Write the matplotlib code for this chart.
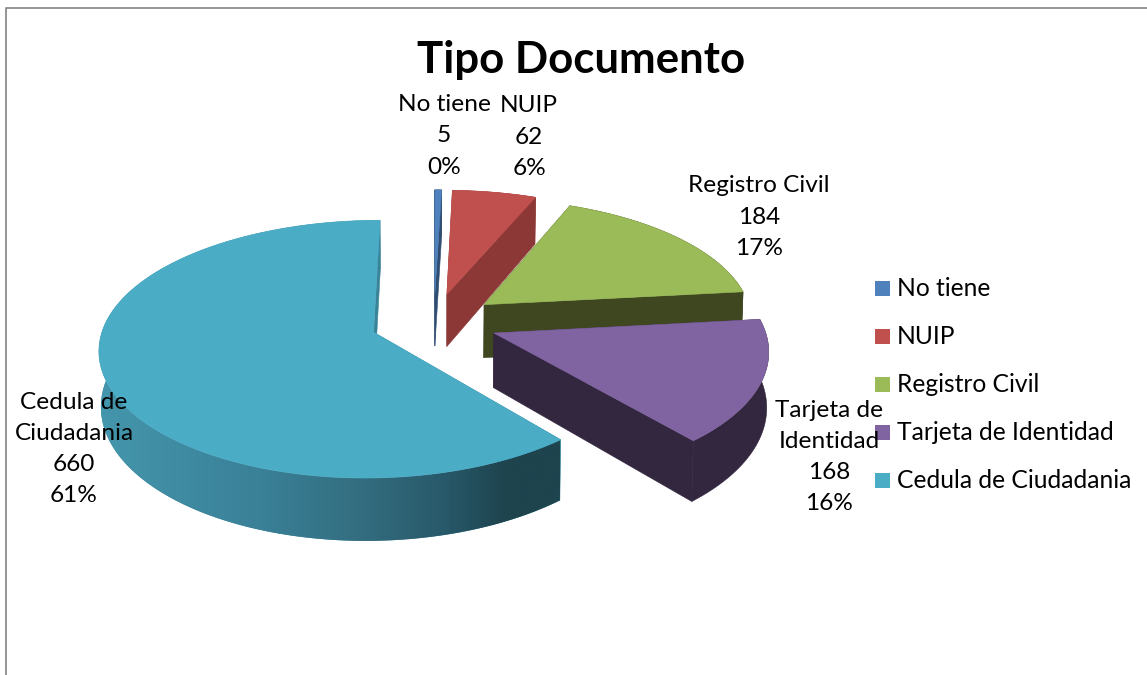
import numpy as np
import matplotlib
matplotlib.use('Agg')
import matplotlib.pyplot as plt
from matplotlib.patches import Polygon, Rectangle
from matplotlib.colors import LinearSegmentedColormap

plt.rcParams['font.family'] = ['Lato', 'DejaVu Sans']

categories = ['No tiene', 'NUIP', 'Registro Civil', 'Tarjeta de Identidad', 'Cedula de Ciudadania']
values = [5, 62, 184, 168, 660]
top_colors = ['#4F81BD', '#C0504D', '#9BBB59', '#8064A2', '#4BACC6']
side_colors = ['#2F4D71', '#8C3836', '#3F4720', '#33263F', '#3A8499']
label_text = ['No tiene', 'NUIP', 'Registro Civil', 'Tarjeta de\nIdentidad', 'Cedula de\nCiudadania']

# projection of the tilted pie, in pixels
cx, cy = 434, 322
rx, ry = 269, 124
k = 0.13
kx = 0.12
explode = 0.237
depth = 54

fig = plt.figure(figsize=(11.47, 6.75), dpi=100)
ax = fig.add_axes([0, 0, 1, 1])


def project(X, Y, z=0.0):
    s = 1.0 / (1.0 + k * Y)
    sx = 1.0 / (1.0 + kx * Y)
    x = cx + rx * X * sx * (1 - 0.006 * z)
    y = cy - ry * Y * s + depth * z * s
    return x, y


def arc_points(a0, a1, ox, oy, z=0.0, n=200):
    t = np.radians(np.linspace(a0, a1, n))
    return project(ox + np.sin(t), oy + np.cos(t), z)


def poly(xs, ys, color, zorder):
    p = Polygon(np.column_stack([xs, ys]), closed=True, facecolor=color,
                edgecolor=color, linewidth=0.4, zorder=zorder)
    ax.add_patch(p)
    return p


# side of the big slice gets darker to the right
teal_cmap = LinearSegmentedColormap.from_list(
    'teal_side', [(0.0, '#4496AC'), (0.35, '#3A8097'), (0.55, '#346F81'),
                  (0.75, '#28596A'), (0.88, '#1E444E'), (1.0, '#1E444E')])

total = sum(values)
start = 0.0
for i, val in enumerate(values):
    sweep = val / total * 360.0
    end = start + sweep
    mid = np.radians(start + sweep / 2)
    ox, oy = explode * np.sin(mid), explode * np.cos(mid)
    z0 = i * 10

    ax_, ay_ = project(ox, oy)
    bx_, by_ = project(ox, oy, 1.0)

    # flat cut faces
    for a in (start, end):
        t = np.radians(a)
        ex, ey = project(ox + np.sin(t), oy + np.cos(t))
        fx, fy = project(ox + np.sin(t), oy + np.cos(t), 1.0)
        poly([ax_, ex, fx, bx_], [ay_, ey, fy, by_], side_colors[i], z0)

    # outer wall
    tx, ty = arc_points(start, end, ox, oy)
    wx, wy = arc_points(start, end, ox, oy, 1.0)
    wall = poly(np.r_[tx, wx[::-1]], np.r_[ty, wy[::-1]], side_colors[i], z0 + 1)
    if i == 4:
        wall.set_edgecolor('none')
        grad = ax.imshow(np.linspace(0, 1, 512).reshape(1, -1), cmap=teal_cmap, aspect='auto',
                         extent=(wx.min(), wx.max(), wy.max(), wy.min()), zorder=z0 + 1.5)
        grad.set_clip_path(wall)

    # top face
    poly(np.r_[ax_, tx], np.r_[ay_, ty], top_colors[i], z0 + 2)
    start = end

ax.set_xlim(0, 1147)
ax.set_ylim(675, 0)
ax.axis('off')

# chart frame
ax.plot([5.5, 5.5, 1147], [675, 7.5, 7.5], color='#8C8C8C', lw=1.3, zorder=1)

ax.text(581, 60, 'Tipo Documento', fontsize=31.5, fontweight='bold', color='black',
        ha='center', va='center', zorder=100)

# data labels
label_pos = [(444, 136), (529, 137), (759, 217), (829, 457), (74, 449)]
for name, val, (lx, ly) in zip(label_text, values, label_pos):
    txt = '%s\n%d\n%d%%' % (name, val, round(val / total * 100))
    ax.text(lx, ly, txt, fontsize=17.6, color='black', ha='center', va='center',
            linespacing=1.6, zorder=100)

# legend
leg_y = [288, 336, 384, 432, 480]
for name, col, ly in zip(categories, top_colors, leg_y):
    ax.add_patch(Rectangle((875, ly - 7.5), 15, 15, facecolor=col, edgecolor='none', zorder=90))
    ax.text(897, ly + 1, name, fontsize=17.7, color='black', ha='left', va='center', zorder=100)

fig.savefig('out.png', dpi=100)
